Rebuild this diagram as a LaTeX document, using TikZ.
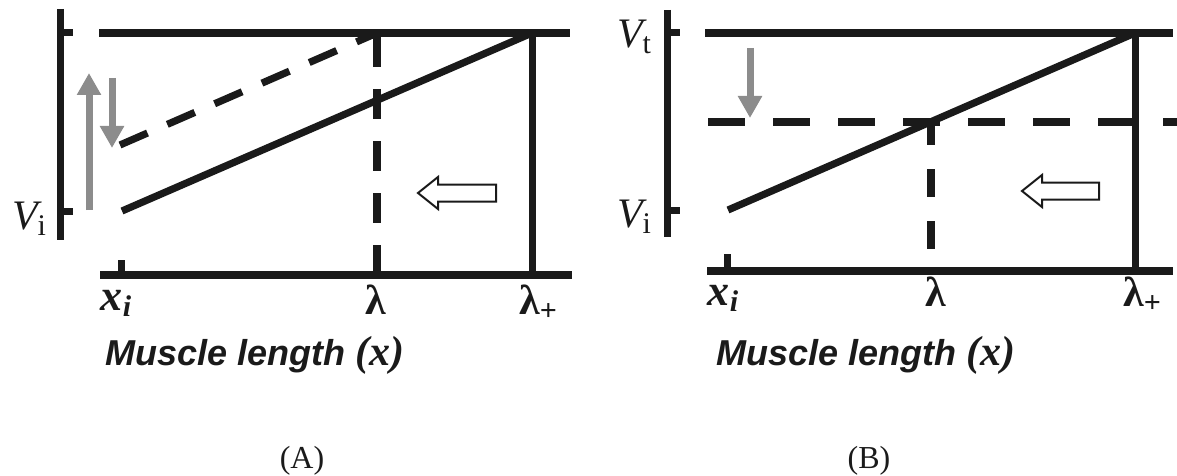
\documentclass[tikz,border=0pt]{standalone}
\usepackage{fontspec}
\setmainfont{Liberation Serif}
\setsansfont{Liberation Sans}
\usetikzlibrary{arrows.meta}
\definecolor{clrInk}  {HTML}{1A1A1A}
\definecolor{clrDrift}{HTML}{8C8C8C}
\newcommand{\lowsub}[2]{\raisebox{-3pt}{\fontsize{#1}{#1}\selectfont #2}}
\tikzset{
  inkln/.style   = {line width=3.5pt, color=clrInk},
  railln/.style  = {inkln, line width=4pt},
  slopeln/.style = {inkln, line width=3.6pt},
  dashdiag/.style = {slopeln, dash pattern=on 15pt off 10.8pt},
  dashvert/.style = {slopeln, dash pattern=on 15pt off 11pt, dash phase=24pt},
  dashhor/.style  = {slopeln, dash pattern=on 18.5pt off 14pt},
  dashdrop/.style = {slopeln, dash pattern=on 14pt off 12pt, dash phase=2.5pt},
  grayarr/.style = {-{Triangle[width=11.5pt, length=11pt]},
                    line width=3.5pt, color=clrDrift},
  hollow/.style  = {draw=clrInk, line width=1pt, fill=white, line join=miter},
  lbl/.style     = {anchor=base, inner sep=0pt, text=clrInk},
  vlbl/.style    = {lbl, font=\fontsize{21}{22}\selectfont},
  xlbl/.style    = {lbl, font=\fontsize{22}{24}\selectfont\bfseries\itshape},
  lamlbl/.style  = {lbl, font=\fontsize{21}{22}\selectfont\bfseries},
  axlbl/.style   = {lbl, font=\fontsize{18}{20}\selectfont\sffamily\bfseries\itshape},
  panellbl/.style = {lbl, font=\fontsize{16}{18}\selectfont},
}

\begin{document}
\begin{tikzpicture}[x=0.5pt, y=-0.5pt]
\useasboundingbox (0,0) rectangle (1177,476);

% ══════════════════════════════════════════════════════════════════════════
%  PANEL A — coordinates (pixel grid, y downwards)
% ══════════════════════════════════════════════════════════════════════════

\coordinate (aAxT)  at (60,   9);
\coordinate (aAxB)  at (60, 240);
\coordinate (aVt)   at (60,  33);
\coordinate (aVi)   at (60, 211);
\coordinate (aTopL) at (99,  33);
\coordinate (aTopR) at (570, 33);
\coordinate (aBotL) at (100, 275);
\coordinate (aBotR) at (572, 275);
\coordinate (aXi)   at (121, 275);
\coordinate (aS0)   at (122, 211);   % solid line start
\coordinate (aD0)   at (120, 145);   % dashed line start
\coordinate (aLam)  at (377,  33);
\coordinate (aLamB) at (377, 275);
\coordinate (aLp)   at (532,  33);
\coordinate (aLpB)  at (532, 275);

% ── axes and rails ──────────────────────────────────────────────────────
\draw[inkln]  (aAxT) -- (aAxB);
\draw[inkln]  (aVt) -- ++(13,0);
\draw[inkln]  (aVi) -- ++(13,0);
\draw[railln] (aTopL) -- (aTopR);
\draw[railln] (aBotL) -- (aBotR);
\draw[inkln]  (aXi) -- ++(0,-15);

% ── lines ───────────────────────────────────────────────────────────────
\draw[slopeln]  (aS0) -- (aLp);
\draw[dashdiag] (aD0) -- (aLam);
\draw[dashvert] (aLam) -- (aLamB);
\draw[inkln]    (aLp) -- (aLpB);

% ── drift arrows ────────────────────────────────────────────────────────
\draw[grayarr] (89, 210) coordinate (aUp0) -- (89, 73)  coordinate (aUp1);
\draw[grayarr] (112, 78) coordinate (aDn0) -- (112, 148) coordinate (aDn1);

% hollow arrow (tip first)
\coordinate (aTip) at (418, 193);
\draw[hollow] (aTip) -- ++(20,-16) -- ++(0,7.5) -- ++(58,0) -- ++(0,17)
              -- ++(-58,0) -- ++(0,7.5) -- cycle;

% ── labels ──────────────────────────────────────────────────────────────
\node[vlbl]   (aViL)  at (29, 229)  {{\itshape V}\lowsub{15}{i}};
\node[xlbl]   (aXiL)  at (116, 310) {x\lowsub{15}{i}};
\node[lamlbl] (aLamL) at (376, 314) {λ};
\node[lamlbl] (aLpL)  at (538, 314) {λ\lowsub{15}{+}};
\node[axlbl]  (aAx)   at (255, 365)
  {Muscle length {\rmfamily\fontsize{21}{22}\selectfont (x)}};
\node[panellbl] (aCap) at (302, 468) {(A)};

% ══════════════════════════════════════════════════════════════════════════
%  PANEL B
% ══════════════════════════════════════════════════════════════════════════

\coordinate (bAxT)  at (667,  10);
\coordinate (bAxB)  at (667, 237);
\coordinate (bVt)   at (667,  33);
\coordinate (bVi)   at (667, 210);
\coordinate (bTopL) at (705,  33);
\coordinate (bTopR) at (1173, 33);
\coordinate (bBotL) at (707, 271);
\coordinate (bBotR) at (1173, 271);
\coordinate (bXi)   at (727, 271);
\coordinate (bS0)   at (728, 210);
\coordinate (bHL)   at (708, 122);
\coordinate (bHR)   at (1177, 122);
\coordinate (bLam)  at (931, 122);
\coordinate (bLamB) at (931, 271);
\coordinate (bLp)   at (1135,  33);
\coordinate (bLpB)  at (1135, 271);

% ── axes and rails ──────────────────────────────────────────────────────
\draw[inkln]  (bAxT) -- (bAxB);
\draw[inkln]  (bVt) -- ++(13,0);
\draw[inkln]  (bVi) -- ++(13,0);
\draw[railln] (bTopL) -- (bTopR);
\draw[railln] (bBotL) -- (bBotR);
\draw[inkln]  (bXi) -- ++(0,-17);

% ── lines ───────────────────────────────────────────────────────────────
\draw[slopeln]  (bS0) -- (bLp);
\draw[dashhor]  (bHL) -- (bHR);
\draw[dashdrop] (bLam) -- (bLamB);
\draw[inkln]    (bLp) -- (bLpB);

% ── drift arrows ────────────────────────────────────────────────────────
\draw[grayarr] (750, 48) coordinate (bDn0) -- (750, 118) coordinate (bDn1);

\coordinate (bTip) at (1022, 191);
\draw[hollow] (bTip) -- ++(20,-16) -- ++(0,7.5) -- ++(57,0) -- ++(0,17)
              -- ++(-57,0) -- ++(0,7.5) -- cycle;

% ── labels ──────────────────────────────────────────────────────────────
\node[vlbl]   (bVtL)  at (634, 48)  {{\itshape V}\lowsub{15}{t}};
\node[vlbl]   (bViL)  at (634, 227) {{\itshape V}\lowsub{15}{i}};
\node[xlbl]   (bXiL)  at (723, 305) {x\lowsub{15}{i}};
\node[lamlbl] (bLamL) at (936, 306) {λ};
\node[lamlbl] (bLpL)  at (1142, 306) {λ\lowsub{15}{+}};
\node[axlbl]  (bAx)   at (866, 365)
  {Muscle length {\rmfamily\fontsize{21}{22}\selectfont (x)}};
\node[panellbl] (bCap) at (869, 468) {(B)};

\end{tikzpicture}
\end{document}
